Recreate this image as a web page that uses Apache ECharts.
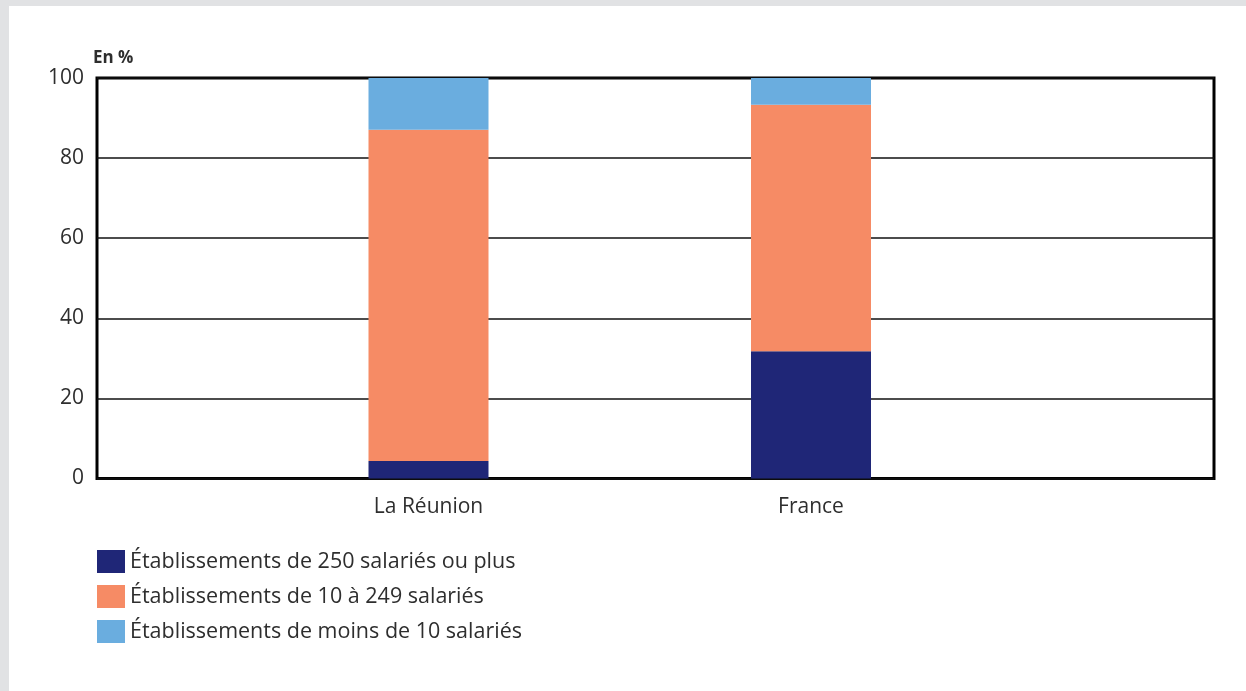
<!DOCTYPE html>
<html>
<head>
<meta charset="utf-8">
<script src="https://cdn.jsdelivr.net/npm/echarts@6/dist/echarts.min.js"></script>
<style>
  html, body { margin: 0; padding: 0; background: #ffffff; }
  #chart { width: 1246px; height: 691px; }
</style>
</head>
<body>
<div id="chart"></div>
<script>
// Territories compared
const categories = ['La Réunion', 'France'];

// Share of employees (%) by establishment size
const grands = [4.4, 31.8];       // 250 salariés ou plus
const moyens = [82.7, 61.5];      // 10 à 249 salariés
const petits = [12.9, 6.7];       // moins de 10 salariés

const seriesNames = [
  'Établissements de 250 salariés ou plus',
  'Établissements de 10 à 249 salariés',
  'Établissements de moins de 10 salariés'
];
const colors = ['#1f2677', '#f68b65', '#6aaddf'];

const yTicks = { min: 0, max: 100, interval: 20 };

const FONT = '"Open Sans", sans-serif';
const TXT = '#2e2e2e';

const chart = echarts.init(document.getElementById('chart'), null, { renderer: 'canvas' });

const plotTop = 78, plotBottom = 212.5;

chart.setOption({
  backgroundColor: '#ffffff',
  animation: false,
  textStyle: { fontFamily: FONT },
  graphic: [
    { type: 'rect', shape: { x: 0, y: 0, width: 1246, height: 6 }, style: { fill: '#e1e2e4' }, silent: true },
    { type: 'rect', shape: { x: 0, y: 0, width: 9, height: 691 }, style: { fill: '#e1e2e4' }, silent: true },
    { type: 'text', left: 93, top: 50, style: { text: 'En %', font: 'bold 17px ' + FONT, fill: TXT } }
  ],
  legend: {
    orient: 'vertical',
    left: 92,
    top: 545,
    itemWidth: 28,
    itemHeight: 23,
    itemGap: 12,
    icon: 'rect',
    data: seriesNames,
    textStyle: { fontFamily: FONT, fontSize: 21.5, color: TXT, padding: [4, 0, 0, 0] }
  },
  grid: [
    { left: 97, right: 32, top: plotTop, bottom: plotBottom, show: true, borderColor: '#000', borderWidth: 3, backgroundColor: 'transparent' },
    { left: 237.25, right: 243.75, top: plotTop, bottom: plotBottom }
  ],
  xAxis: [
    { type: 'value', gridIndex: 0, min: 0, max: 1, show: false },
    {
      type: 'category', gridIndex: 1, data: categories,
      axisLine: { show: false }, axisTick: { show: false },
      axisLabel: { margin: 18, fontFamily: FONT, fontSize: 21, color: TXT }
    }
  ],
  yAxis: [
    {
      type: 'value', gridIndex: 0, min: yTicks.min, max: yTicks.max, interval: yTicks.interval,
      axisLine: { show: false }, axisTick: { show: false },
      axisLabel: { margin: 13, fontFamily: FONT, fontSize: 21, color: TXT },
      splitLine: { lineStyle: { color: '#111', width: 1.5 } }
    },
    { type: 'value', gridIndex: 1, min: yTicks.min, max: yTicks.max, show: false, splitLine: { show: false } }
  ],
  series: [grands, moyens, petits].map((d, i) => ({
    name: seriesNames[i],
    type: 'bar',
    stack: 'total',
    xAxisIndex: 1,
    yAxisIndex: 1,
    barWidth: 120,
    data: d,
    itemStyle: { color: colors[i] },
    z: 1
  }))
});
</script>
</body>
</html>
